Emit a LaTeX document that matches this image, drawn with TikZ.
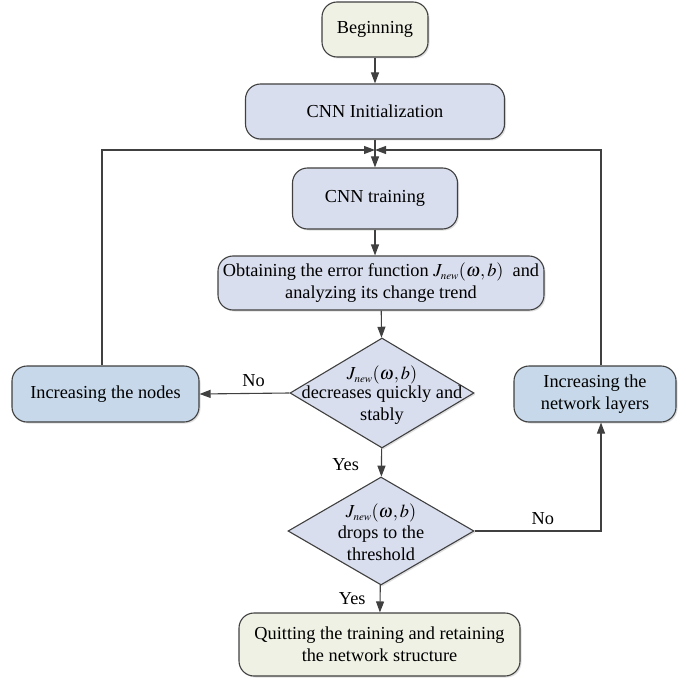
\documentclass[tikz,border=0pt]{standalone}
\usepackage{mathptmx}
\usepackage{fontspec}
\setmainfont{Liberation Serif}
\usetikzlibrary{arrows.meta,shapes.geometric,shadows}

\definecolor{edge}{HTML}{404040}
\definecolor{termfill}{HTML}{EEF1E3}
\definecolor{procfill}{HTML}{D9DEEE}
\definecolor{actfill}{HTML}{C6D8E9}

\tikzset{
  box/.style={draw=edge, line width=1.1pt, rounded corners=15pt, align=center,
    inner sep=0pt, drop shadow={shadow xshift=1.5pt, shadow yshift=-1.5pt, opacity=0.25}},
  termbox/.style={box, fill=termfill},
  procbox/.style={box, fill=procfill},
  actbox/.style={box, fill=actfill},
  decision/.style={draw=edge, line width=1.1pt, shape=diamond, inner sep=0pt,
    fill=procfill, drop shadow={shadow xshift=1.5pt, shadow yshift=-1.5pt, opacity=0.25}},
  txt/.style={align=center, inner sep=0pt},
  flow/.style={draw=edge, line width=1.1pt, -{Triangle[length=11pt,width=8pt]}},
  lab/.style={inner sep=0pt}
}

\newcommand{\Jnew}{$J_{\scriptscriptstyle new}(\omega,b)$}

\begin{document}
\begin{tikzpicture}[x=1pt, y=-1pt, font=\fontsize{18.3}{22}\selectfont]
\useasboundingbox (0,0) rectangle (678,679);

% process boxes
\node[termbox, minimum width=106, minimum height=55] (begin) at (375,29.5) {Beginning};
\node[procbox, minimum width=259, minimum height=55] (init) at (375,111.5) {CNN Initialization};
\node[procbox, minimum width=165, minimum height=61] (train) at (375,198.5) {CNN training};
\node[procbox, minimum width=326, minimum height=54] (obtain) at (381,283)
  {Obtaining the error function \Jnew\ \ and\\ analyzing its change trend};

% decisions (outline and text kept apart so the text may touch the outline)
\node[decision, minimum width=184, minimum height=110] (d1) at (382,393) {};
\node[txt] (d1t) at (382,395) {\Jnew\\[-3pt] decreases quickly and\\ stably};
\node[decision, minimum width=186, minimum height=108] (d2) at (381,531) {};
\node[txt] (d2t) at (381,532) {\Jnew\\[-1pt] drops to the\\ threshold};

% side actions and final state
\node[actbox, minimum width=187, minimum height=56] (nodes) at (105.5,394) {Increasing the nodes};
\node[actbox, minimum width=162, minimum height=56] (layers) at (595,394) {Increasing the\\ network layers};
\node[termbox, minimum width=281, minimum height=63] (quit) at (379.5,644.5)
  {Quitting the training and retaining\\ the network structure};

% junction above the training step
\coordinate (merge) at (375,150);
\coordinate (lcol) at (102,0);
\coordinate (rcol) at (601,0);

% main flow
\draw[flow] (begin) -- (init);
\draw[flow] (init) -- (train);
\draw[flow] (train.south) -- (train.south |- obtain.north);
\draw[flow] (obtain) -- (d1);
\draw[flow] (d1) -- node[lab, left=22pt, pos=0.58] (yes1) {Yes} (d2);
\draw[flow] (d2) -- node[lab, left=14pt, pos=0.5] (yes2) {Yes} (quit);

% "No" branches
\draw[flow] (d1.west) -- node[lab, above=6pt, pos=0.4] (no1) {No} (nodes.east);
\draw[flow] (d2.east) -| node[lab, above=6pt, pos=0.27] (no2) {No} (layers.south -| rcol);

% feedback loops into the junction
\draw[flow] (nodes.north -| lcol) |- (merge);
\draw[flow] (layers.north -| rcol) |- (merge);
\end{tikzpicture}
\end{document}
